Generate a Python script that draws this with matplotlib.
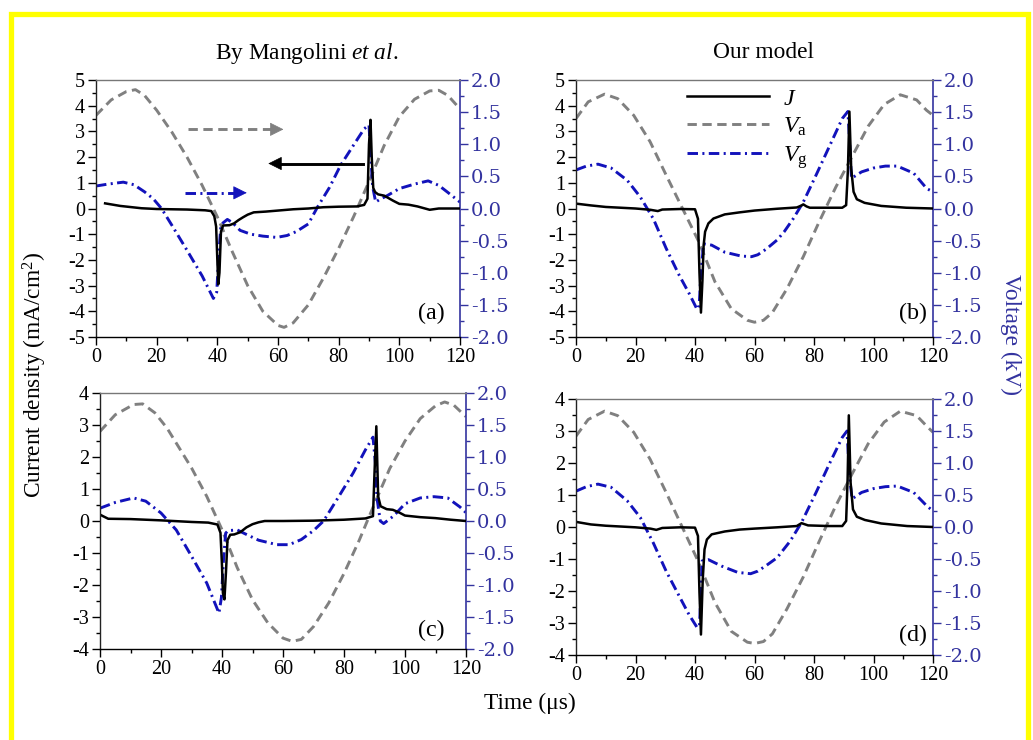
import matplotlib
matplotlib.use("Agg")
import matplotlib.pyplot as plt
from matplotlib.ticker import MultipleLocator, FormatStrFormatter
from matplotlib.patches import Rectangle
from matplotlib.lines import Line2D

plt.rcParams['font.family'] = ['Liberation Serif', 'DejaVu Serif']
plt.rcParams['mathtext.fontset'] = 'custom'
plt.rcParams['mathtext.rm'] = 'Liberation Serif'
plt.rcParams['mathtext.it'] = 'Liberation Serif:italic'
plt.rcParams['mathtext.bf'] = 'Liberation Serif:bold'
plt.rcParams['axes.unicode_minus'] = False

# ---------------- data ----------------
# Panel (a) - Mangolini et al., case 1
a_tJ = [3, 8, 15, 20, 30, 36, 38, 39, 39.6, 40.0, 40.3, 40.7, 41.2, 41.9, 44, 45.5, 47, 48.5, 50, 52, 56, 60, 65, 70, 75, 80, 86, 88.4, 89.5, 90.0, 90.5, 90.9, 91.4, 92, 93, 95, 98, 100, 103, 106, 110, 113, 120]
a_J = [0.2, 0.1, 0.01, -0.02, -0.04, -0.07, -0.1, -0.3, -0.7, -2.0, -2.95, -2.5, -0.9, -0.66, -0.65, -0.58, -0.45, -0.34, -0.24, -0.15, -0.12, -0.08, -0.03, 0.0, 0.05, 0.07, 0.08, 0.14, 0.38, 2.5, 3.45, 2.0, 0.8, 0.64, 0.55, 0.5, 0.3, 0.18, 0.15, 0.08, -0.05, 0.0, 0.0]
a_tVa = [0, 5, 10, 13, 16, 20, 25, 30, 35, 40, 45, 50, 55, 60, 62, 65, 70, 75, 80, 85, 90, 95, 100, 105, 110, 113, 116, 120]
a_Va = [1.45, 1.69, 1.82, 1.85, 1.76, 1.53, 1.19, 0.80, 0.36, -0.13, -0.68, -1.20, -1.60, -1.82, -1.85, -1.78, -1.50, -1.08, -0.62, -0.12, 0.42, 0.98, 1.43, 1.70, 1.83, 1.84, 1.76, 1.55]
a_tVg = [0, 4, 9, 12.5, 16, 18.9, 21.6, 25, 30, 35, 38.7, 39.8, 40.5, 41.2, 43.3, 45, 47.5, 51, 55, 59.6, 63, 66, 70, 73, 77, 80.6, 84, 88.4, 90.0, 90.6, 91.2, 92.2, 93.5, 96, 100, 105, 109.5, 113, 116, 120]
a_Vg = [0.35, 0.38, 0.41, 0.37, 0.26, 0.15, 0.0, -0.26, -0.65, -1.05, -1.40, -1.30, -0.7, -0.25, -0.17, -0.22, -0.34, -0.40, -0.43, -0.45, -0.42, -0.36, -0.24, 0.02, 0.33, 0.67, 0.92, 1.24, 1.30, 0.8, 0.34, 0.10, 0.14, 0.2, 0.31, 0.38, 0.43, 0.36, 0.25, 0.1]

# Panel (b) - our model, case 1
b_tJ = [0, 5, 10, 20, 25, 27.5, 29, 35, 40, 41, 41.5, 42, 42.5, 42.9, 43.4, 44.5, 46.2, 50, 55, 60, 67.6, 74.2, 75.5, 76.4, 77.5, 78.6, 85, 89.5, 90.8, 91.4, 91.9, 92.5, 93.3, 94.4, 97, 102.6, 111, 120]
b_J = [0.19, 0.12, 0.06, 0.0, -0.05, -0.1, -0.04, -0.02, -0.03, -0.4, -2.5, -4.05, -2.8, -1.43, -0.9, -0.58, -0.39, -0.23, -0.15, -0.08, -0.01, 0.04, 0.1, 0.16, 0.08, 0.03, 0.03, 0.03, 0.13, 1.5, 3.77, 1.56, 0.65, 0.36, 0.22, 0.1, 0.03, 0.0]
b_tVa = [0, 4.1, 9.6, 14, 19.4, 24.9, 30.3, 35.8, 41.3, 46.7, 52.2, 57.6, 60, 63, 66, 70.9, 76.4, 81.8, 87.3, 92.7, 98.2, 103.6, 109, 114.5, 117.8, 120]
b_Va = [1.40, 1.66, 1.78, 1.71, 1.45, 1.04, 0.52, 0.0, -0.52, -1.14, -1.56, -1.74, -1.77, -1.74, -1.62, -1.25, -0.75, -0.2, 0.33, 0.8, 1.28, 1.62, 1.77, 1.69, 1.53, 1.45]
b_tVg = [0, 3.5, 7.4, 11.8, 17.2, 21.6, 26, 30.3, 34.7, 38, 40.7, 41.4, 42.0, 42.9, 45.6, 50, 55.5, 59, 61.1, 64, 67.6, 70, 73, 76.4, 80.7, 85.1, 89.5, 91.4, 92.0, 92.6, 96, 100, 104, 108, 113.5, 117.9, 120]
b_Vg = [0.60, 0.66, 0.69, 0.63, 0.44, 0.18, -0.16, -0.62, -1.04, -1.32, -1.57, -1.51, -1.0, -0.55, -0.57, -0.68, -0.74, -0.75, -0.72, -0.63, -0.49, -0.36, -0.16, 0.10, 0.52, 0.96, 1.40, 1.51, 1.0, 0.47, 0.57, 0.63, 0.66, 0.66, 0.55, 0.31, 0.26]

# Panel (c) - Mangolini et al., case 2
c_tJ = [0, 1, 2.7, 10, 20, 30, 35.5, 38.5, 39.5, 40.0, 40.3, 40.8, 41.3, 41.8, 42.7, 44, 46, 48, 50, 52, 54, 60, 70, 80, 87, 89.5, 90.0, 90.6, 91.2, 92, 94, 96, 98, 100, 105, 110, 115, 120]
c_J = [0.2, 0.15, 0.07, 0.06, 0.02, -0.03, -0.05, -0.11, -0.37, -1.4, -2.25, -2.45, -1.6, -0.6, -0.43, -0.42, -0.35, -0.2, -0.1, -0.04, 0.0, 0.0, 0.01, 0.04, 0.08, 0.15, 1.5, 2.96, 0.77, 0.46, 0.37, 0.35, 0.27, 0.17, 0.12, 0.09, 0.04, 0.0]
c_tVa = [0, 5, 11, 14, 18, 22, 26, 30, 35, 40, 45, 50, 55, 60, 63, 66, 70, 75, 80, 85, 90, 95, 100, 105, 110, 113, 116, 120]
c_Va = [1.40, 1.66, 1.82, 1.83, 1.69, 1.45, 1.14, 0.83, 0.385, -0.135, -0.73, -1.23, -1.59, -1.83, -1.88, -1.85, -1.65, -1.28, -0.82, -0.30, 0.27, 0.82, 1.25, 1.60, 1.80, 1.86, 1.81, 1.63]
c_tVg = [0, 5, 11, 15, 20, 25, 30, 35, 39, 39.8, 40.5, 41.2, 42, 45, 48, 52, 58, 62, 66, 70, 73.3, 78, 83, 87, 89.5, 90.3, 90.8, 91.9, 93, 96.3, 100, 105, 109.5, 114, 118, 120]
c_Vg = [0.2, 0.29, 0.36, 0.31, 0.125, -0.14, -0.55, -0.97, -1.44, -1.2, -0.6, -0.19, -0.15, -0.14, -0.21, -0.30, -0.37, -0.37, -0.29, -0.15, 0.0, 0.36, 0.75, 1.11, 1.31, 0.9, 0.36, 0.0, -0.04, 0.08, 0.27, 0.36, 0.38, 0.36, 0.22, 0.13]

# Panel (d) - our model, case 2
d_tJ = [0, 5, 10, 20, 25, 27, 29, 35, 40, 41, 41.5, 42, 42.6, 43.2, 44, 45.6, 50, 55, 60, 67.6, 74.2, 75.8, 78, 85, 89.5, 90.8, 91.3, 91.7, 92.3, 93.1, 94.4, 97.1, 102.6, 111.3, 120]
d_J = [0.16, 0.08, 0.04, -0.01, -0.05, -0.09, -0.03, -0.01, -0.02, -0.28, -2.05, -3.36, -1.64, -0.7, -0.39, -0.23, -0.14, -0.08, -0.05, -0.01, 0.03, 0.12, 0.05, 0.03, 0.03, 0.19, 1.5, 3.49, 1.39, 0.55, 0.32, 0.22, 0.11, 0.03, 0.0]
d_tVa = [0, 4.1, 9.6, 14, 19.4, 24.9, 30.3, 35.8, 41.3, 46.7, 52.2, 57.6, 60, 63, 66, 70.9, 76.4, 81.8, 87.3, 92.7, 98.2, 103.6, 109, 114.5, 117.8, 120]
d_Va = [1.42, 1.68, 1.81, 1.74, 1.48, 1.06, 0.54, -0.01, -0.56, -1.18, -1.63, -1.80, -1.82, -1.79, -1.67, -1.28, -0.78, -0.22, 0.33, 0.82, 1.30, 1.64, 1.81, 1.74, 1.58, 1.48]
d_tVg = [0, 3.5, 7.4, 11.8, 17.2, 21.6, 26, 30.3, 34.7, 38, 40.7, 41.5, 42.0, 42.4, 44.5, 48.9, 54.4, 58.7, 61.1, 64, 67.6, 72, 75.8, 80.7, 85.1, 89.5, 91.1, 91.9, 92.8, 96, 100, 104, 108, 113.5, 117.9, 120]
d_Vg = [0.56, 0.63, 0.67, 0.62, 0.41, 0.15, -0.25, -0.69, -1.08, -1.37, -1.57, -1.55, -1.0, -0.53, -0.51, -0.61, -0.71, -0.73, -0.69, -0.6, -0.48, -0.22, 0.07, 0.54, 0.98, 1.40, 1.50, 0.8, 0.44, 0.54, 0.6, 0.63, 0.64, 0.54, 0.33, 0.25]

titles = ["By Mangolini $\\mathit{et\\ al.}$", "Our model"]
panel_labels = ["(a)", "(b)", "(c)", "(d)"]
legend_labels = ["$J$", "$V_\\mathrm{a}$", "$V_\\mathrm{g}$"]

# ---------------- styling ----------------
W, H = 1033, 740
BLUE = '#1212bb'
NAVY = '#33339f'
GRAY = '#808080'
FS = 14.5      # left / bottom tick labels
FS_R = 14      # right tick labels (wider face)
FS_T = 16.8    # titles and axis labels

fig = plt.figure(figsize=(W / 100, H / 100), dpi=100)
fig.patch.set_facecolor('white')


def frac(l, t, r, b):
    return [l / W, 1 - b / H, (r - l) / W, (b - t) / H]


def panel(rect, tJ, J, tVa, Va, tVg, Vg, jlim, label, lab_xy):
    ax = fig.add_axes(rect)
    ax2 = ax.twinx()
    ax2.plot(tVa, Va, color=GRAY, lw=2.1, dashes=(3.2, 1.9))
    ax2.plot(tVg, Vg, color=BLUE, lw=2.1, dashes=(3.6, 1.5, 0.7, 1.5))
    ax.plot(tJ, J, color='black', lw=1.8)
    ax.set_zorder(ax2.get_zorder() + 1)
    ax.patch.set_visible(False)
    ax.set_xlim(0, 120)
    ax.set_ylim(-jlim, jlim)
    ax2.set_ylim(-2.0, 2.0)
    ax.xaxis.set_major_locator(MultipleLocator(20))
    ax.xaxis.set_minor_locator(MultipleLocator(10))
    ax.yaxis.set_major_locator(MultipleLocator(1))
    ax.yaxis.set_minor_locator(MultipleLocator(0.5))
    ax2.yaxis.set_major_locator(MultipleLocator(0.5))
    ax2.yaxis.set_minor_locator(MultipleLocator(0.25))
    ax2.yaxis.set_major_formatter(FormatStrFormatter('%.1f'))
    ax.tick_params(which='both', direction='out', labelsize=FS, width=1.0, pad=2)
    ax.tick_params(which='major', length=6)
    ax.tick_params(which='minor', length=3)
    ax.tick_params(axis='y', which='both', right=False)
    ax2.tick_params(which='both', direction='out', labelsize=FS_R, width=1.0,
                    color=NAVY, labelcolor=NAVY, pad=2)
    ax2.tick_params(which='major', length=6)
    ax2.tick_params(which='minor', length=3)
    for t in ax2.get_yticklabels():
        t.set_fontfamily('DejaVu Serif')
    for s in ['left', 'top', 'bottom']:
        ax2.spines[s].set_visible(False)
    ax.spines['right'].set_visible(False)
    ax.spines['top'].set_color('#777777')
    ax.spines['left'].set_color('#222222')
    ax2.spines['right'].set_color(NAVY)
    for s in ax.spines.values():
        s.set_linewidth(1.0)
    ax2.spines['right'].set_linewidth(1.2)
    ax.text(lab_xy[0], lab_xy[1], label, transform=ax.transAxes, fontsize=FS_T + 0.5,
            ha='center', va='center')
    return ax, ax2


ax_a, _ = panel(frac(96, 80, 460, 337), a_tJ, a_J, a_tVa, a_Va, a_tVg, a_Vg, 5, panel_labels[0], (0.922, 0.093))
ax_b, _ = panel(frac(576, 80, 933, 337), b_tJ, b_J, b_tVa, b_Va, b_tVg, b_Vg, 5, panel_labels[1], (0.943, 0.093))
ax_c, _ = panel(frac(100, 393, 466, 649), c_tJ, c_J, c_tVa, c_Va, c_tVg, c_Vg, 4, panel_labels[2], (0.906, 0.074))
ax_d, _ = panel(frac(576, 399, 933, 655), d_tJ, d_J, d_tVa, d_Va, d_tVg, d_Vg, 4, panel_labels[3], (0.943, 0.078))


# annotation arrows in panel (a)
def arrow(ax, x0, x1, y, color, dashes):
    direction = 1 if x1 > x0 else -1
    head = 3.0
    kw = dict(color=color, lw=2.1)
    if dashes is not None:
        kw['dashes'] = dashes
    ax.plot([x0, x1 - direction * head * 0.8], [y, y], **kw)
    ax.annotate('', xy=(x1, y), xytext=(x1 - direction * head, y),
                arrowprops=dict(arrowstyle='-|>', color=color, lw=0.5,
                                mutation_scale=22, shrinkA=0, shrinkB=0))


arrow(ax_a, 30.4, 61.8, 3.08, GRAY, (3.2, 1.9))
arrow(ax_a, 88.1, 56.8, 1.75, 'black', None)
arrow(ax_a, 29.3, 49.7, 0.61, BLUE, (3.6, 1.5, 0.7, 1.5))

# legend in panel (b)
handles = [Line2D([], [], color='black', lw=1.8),
           Line2D([], [], color=GRAY, lw=2.1, dashes=(3.2, 1.9)),
           Line2D([], [], color=BLUE, lw=2.1, dashes=(3.6, 1.5, 0.7, 1.5))]
fig.legend(handles, legend_labels, loc='upper left',
           bbox_to_anchor=(687 / W, 1 - 88 / H), bbox_transform=fig.transFigure,
           frameon=False, fontsize=FS_T + 0.5, handlelength=3.4, handletextpad=0.6,
           labelspacing=0.25, borderpad=0, borderaxespad=0)

# titles and shared labels
fig.text(307 / W, 1 - 53 / H, titles[0], ha='center', va='center', fontsize=FS_T)
fig.text(763 / W, 1 - 53 / H, titles[1], ha='center', va='center', fontsize=FS_T)
fig.text(35 / W, 1 - 375 / H, 'Current density (mA/cm$^2$)', rotation=90,
         ha='center', va='center', fontsize=FS_T)
fig.text(1011 / W, 1 - 335 / H, 'Voltage (kV)', rotation=270, color=NAVY,
         ha='center', va='center', fontsize=FS_T)
fig.text(530 / W, 1 - 703 / H, 'Time (\u03bcs)', ha='center', va='center', fontsize=FS_T)

# yellow frame
fig.add_artist(Rectangle((10.5 / W, -0.02), (1028 - 10.5) / W, 1.0 - 14.5 / H + 0.02,
                         transform=fig.transFigure, fill=False, edgecolor='#ffff00',
                         linewidth=3.8, clip_on=False))

fig.savefig('out.png', dpi=100, facecolor='white')
